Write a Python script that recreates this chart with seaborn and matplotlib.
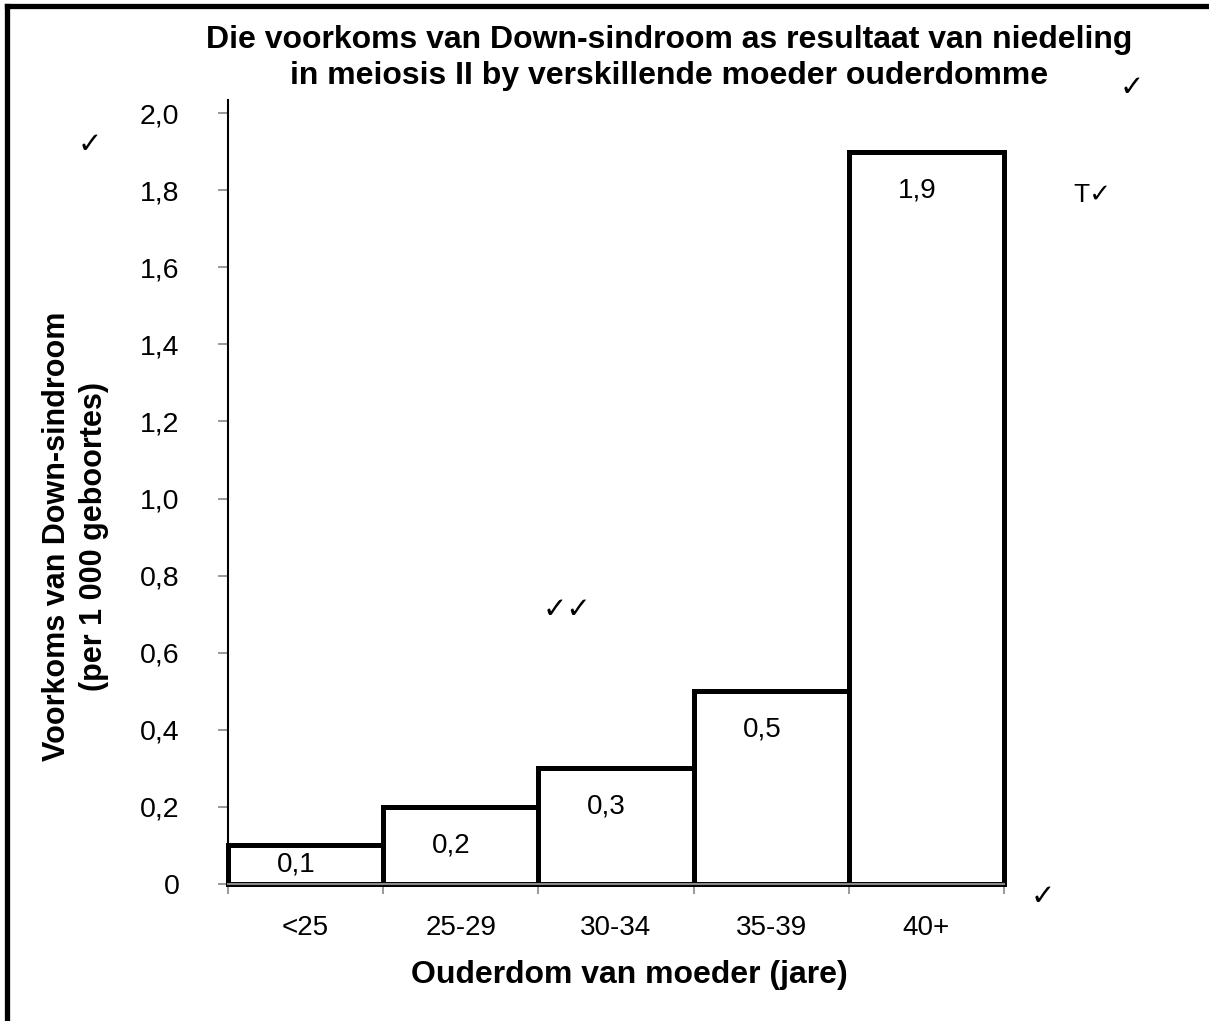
import matplotlib
matplotlib.use('Agg')
import matplotlib.pyplot as plt
from matplotlib.lines import Line2D
import seaborn as sns

# data
age_groups = ['<25', '25-29', '30-34', '35-39', '40+']
incidence = [0.1, 0.2, 0.3, 0.5, 1.9]
y_ticks = [0.0, 0.2, 0.4, 0.6, 0.8, 1.0, 1.2, 1.4, 1.6, 1.8, 2.0]
y_tick_labels = ['0', '0,2', '0,4', '0,6', '0,8', '1,0', '1,2', '1,4', '1,6', '1,8', '2,0']
title_lines = ['Die voorkoms van Down-sindroom as resultaat van niedeling',
               'in meiosis II by verskillende moeder ouderdomme']

sns.set_style('white')
plt.rcParams['font.family'] = ['Liberation Sans', 'DejaVu Sans']
plt.rcParams['text.color'] = 'black'
plt.rcParams['axes.labelcolor'] = 'black'
plt.rcParams['xtick.labelcolor'] = 'black'
plt.rcParams['ytick.labelcolor'] = 'black'

fig = plt.figure(figsize=(12.09, 10.21), dpi=100)
ax = fig.add_axes([228/1209, 1-884/1021, 776/1209, 784/1021])

# bars with thick black outline, no gaps
sns.barplot(x=age_groups, y=incidence, width=1, color='white', saturation=1,
            edgecolor='black', linewidth=3.6, ax=ax)
for p in ax.patches:
    p.set_clip_on(False)

ax.set_xlim(-0.5, 4.5)
ax.set_ylim(0, 2.034)

# value labels inside the bars
for i, v in enumerate(incidence):
    ax.text(i - 0.06, v - min(0.1, v/2), str(v).replace('.', ','), ha='center', va='center',
            fontsize=20, color='black')

# axes styling
for s in ['top', 'right']:
    ax.spines[s].set_visible(False)
ax.spines['left'].set_color('black')
ax.spines['left'].set_linewidth(1.5)
ax.spines['bottom'].set_color('#888888')
ax.spines['bottom'].set_linewidth(1.5)

ax.set_yticks(y_ticks)
ax.set_yticklabels(y_tick_labels, fontsize=20.5)
ax.tick_params(axis='y', direction='out', length=7, width=1.2, color='#888888', pad=28, left=True)

ax.set_xticks(range(len(age_groups)))
ax.set_xticklabels(age_groups, fontsize=20)
ax.set_xticks([i - 0.5 for i in range(len(age_groups) + 1)], minor=True)
ax.tick_params(axis='x', which='major', length=0, pad=22)
ax.tick_params(axis='x', which='minor', direction='out', length=7, width=1.2, color='#888888', bottom=True)

ax.set_xlabel('Ouderdom van moeder (jare)', fontsize=23, fontweight='bold')
ax.xaxis.set_label_coords(0.517, -0.116)
ax.xaxis.label.set_va('center')
ax.set_ylabel('Voorkoms van Down-sindroom\n(per 1 000 geboortes)', fontsize=22,
              fontweight='bold', linespacing=1.3)
ax.yaxis.set_label_coords(-0.197, 0.443)
ax.yaxis.label.set_va('center')

# title, two centred lines
fig.text(669/1209, 1-40/1021, title_lines[0], ha='center', va='center', fontsize=23, fontweight='bold')
fig.text(669/1209, 1-76/1021, title_lines[1], ha='center', va='center', fontsize=23, fontweight='bold')

# marker ticks scattered on the page
ck = '\u2713'
fig.text(90/1209, 1-145/1021, ck, ha='center', va='center', fontsize=21, family=['DejaVu Sans'])
fig.text(1132/1209, 1-88/1021, ck, ha='center', va='center', fontsize=21, family=['DejaVu Sans'])
fig.text(1092/1209, 1-195/1021, 'T' + ck, ha='center', va='center', fontsize=19,
         family=['Liberation Sans', 'DejaVu Sans'])
fig.text(567/1209, 1-610/1021, ck + ck, ha='center', va='center', fontsize=21, family=['DejaVu Sans'])
fig.text(1043/1209, 1-897/1021, ck, ha='center', va='center', fontsize=21, family=['DejaVu Sans'])

# page border (left and top)
fig.add_artist(Line2D([6.5/1209, 6.5/1209], [-0.02, 1-6.5/1021], color='black', linewidth=3.8,
                      transform=fig.transFigure, solid_capstyle='projecting'))
fig.add_artist(Line2D([6.5/1209, 1.02], [1-6.5/1021, 1-6.5/1021], color='black', linewidth=3.8,
                      transform=fig.transFigure, solid_capstyle='projecting'))

fig.savefig('out.png', dpi=100, facecolor='white')
